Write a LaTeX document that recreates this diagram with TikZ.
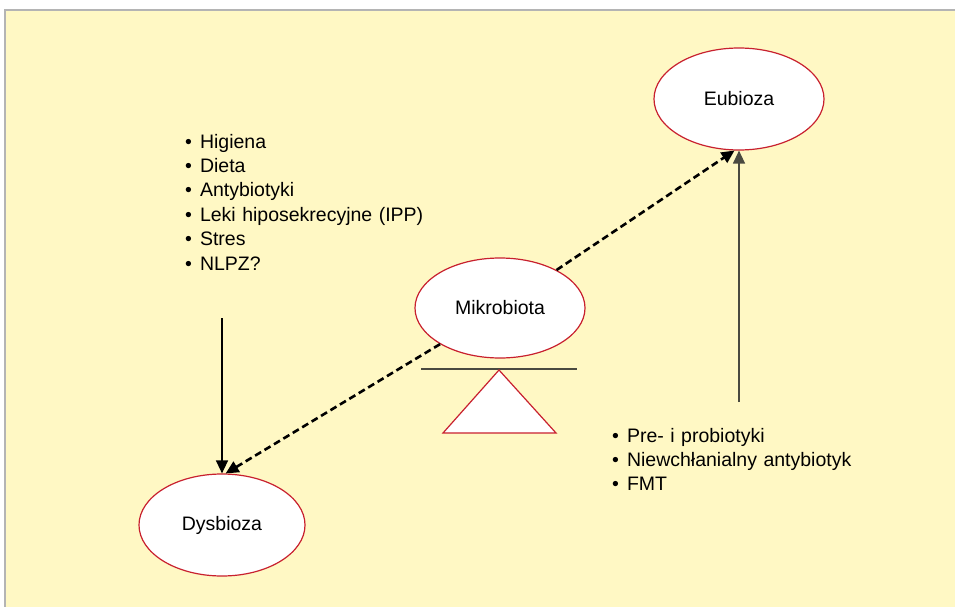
\documentclass[tikz,border=0pt]{standalone}
\usepackage{fontspec}
\setmainfont{Liberation Sans}
\usetikzlibrary{arrows.meta,shapes.geometric}
\definecolor{tlo}{HTML}{FFF8C4}
\definecolor{ramka}{HTML}{B4B4B4}
\definecolor{czerwony}{HTML}{C8202E}
\definecolor{szary}{HTML}{4A4A40}
\tikzstyle{stan}=[ellipse, draw=czerwony, fill=white, line width=1.2pt, inner sep=0pt, minimum width=170pt, minimum height=102pt]
\tikzstyle{lista}=[anchor=base west, inner sep=0pt, text width=260pt, align=left]
\newcommand{\stan}{\node[stan]}

\begin{document}
\begin{tikzpicture}[x=1pt, y=-1pt
    ,font=\fontsize{19.5}{24.4}\selectfont
    ,strzalka/.style={line width=1.3pt, -{Triangle[length=13pt,width=12pt]}}
    ,kreski/.style={line width=2.6pt, dash pattern=on 7pt off 4pt, -{Triangle[length=13pt,width=12pt]}}
]
\useasboundingbox (0,0) rectangle (955,607);
\draw[fill=tlo, draw=ramka, line width=1.5pt] (5,10) rectangle (960,612);
\stan (eub) at (739,99) {Eubioza};
\stan[minimum height=100pt] (mik) at (500,308) {Mikrobiota};
\stan[minimum width=166pt] (dys) at (222,525) {Dysbioza};
% waga pod mikrobiota
\coordinate (wl) at (421,369);
\coordinate (wp) at (577,369);
\draw[szary, line width=1.5pt] (wl) -- (wp);
\draw[czerwony, fill=white, line width=1.2pt] (499,370) -- (556,433) -- (443,433) -- cycle;
\node[lista] (czynniki) at (185,148) {\textbullet\hspace{8pt}Higiena\\
\textbullet\hspace{8pt}Dieta\\
\textbullet\hspace{8pt}Antybiotyki\\
\textbullet\hspace{8pt}Leki hiposekrecyjne (IPP)\\
\textbullet\hspace{8pt}Stres\\
\textbullet\hspace{8pt}NLPZ?};
\node[lista] (leczenie) at (612,442) {\textbullet\hspace{8pt}Pre- i probiotyki\\
\textbullet\hspace{8pt}Niewchłanialny antybiotyk\\
\textbullet\hspace{8pt}FMT};
\coordinate (a1) at (222,318);
\coordinate (a2) at (739,402);
\draw[strzalka] (a1) -- (dys.north);
\draw[strzalka, szary] (a2) -- (eub.south);
\draw[kreski] (mik) -- (dys.86);
\draw[kreski] (mik) -- (eub.265);
\end{tikzpicture}
\end{document}
